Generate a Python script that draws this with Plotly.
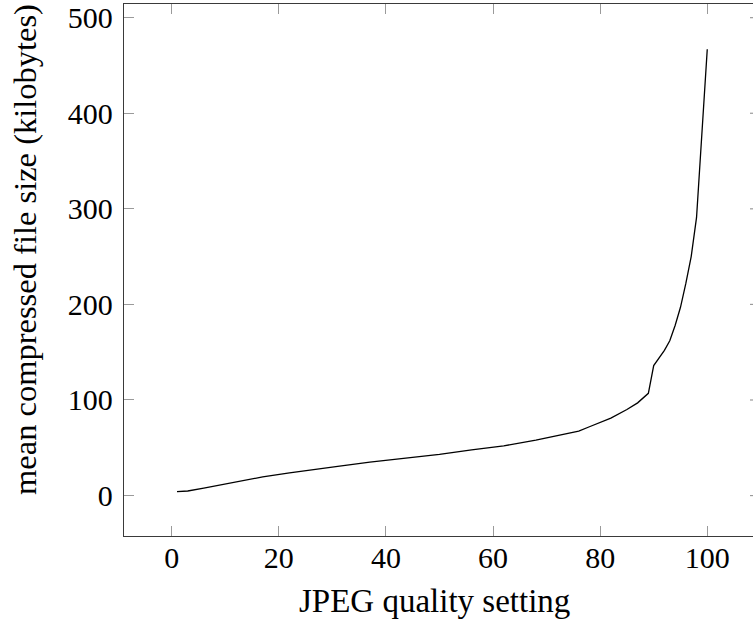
import plotly.graph_objects as go

quality = [1, 3, 6, 12, 17, 22, 27, 31, 37, 43, 50, 56, 62, 68, 72, 74, 76,
           78, 80, 82, 85, 87, 89, 90, 92, 93, 94, 95, 96, 97, 98, 100]
size_kb = [4.2, 4.8, 7.8, 14.6, 19.5, 23.8, 27.8, 30.5, 35.0, 38.8, 43.0, 47.8,
           52.0, 58.0, 62.6, 65.5, 67.5, 72.0, 76.5, 81.0, 90.0, 97.0, 107.0,
           136.0, 152.0, 162.0, 178.0, 197.0, 222.0, 250.0, 291.0, 467.0]
x_ticks = [0, 20, 40, 60, 80, 100]
y_ticks = [0, 100, 200, 300, 400, 500]
x_title = "JPEG quality setting"
y_title = "mean compressed file size (kilobytes)"

W, H = 753, 623
L, T, B, R = 124, 4, 87, 0
pw = W - L - R
ph = H - T - B

font = "Liberation Serif, Times New Roman, serif"

fig = go.Figure()
fig.add_trace(go.Scatter(x=quality, y=size_kb, mode="lines",
                         line=dict(color="black", width=1.3),
                         showlegend=False, hoverinfo="skip"))

axis_common = dict(
    showgrid=False, zeroline=False, showline=True,
    linecolor="#3a3a3a", linewidth=1.3,
    ticks="inside", ticklen=10, tickwidth=1.2, tickcolor="#9a9a9a",
    tickfont=dict(family=font, size=30, color="black"),
    automargin=False,
)

fig.update_layout(
    width=W, height=H,
    margin=dict(l=L, r=R, t=T, b=B, pad=0, autoexpand=False),
    paper_bgcolor="white", plot_bgcolor="white",
    xaxis=dict(range=[-8.9, 108.54], tickvals=x_ticks,
               ticktext=[str(v) for v in x_ticks], mirror="ticks",
               ticklabelstandoff=-5, **axis_common),
    yaxis=dict(range=[-42.3, 514.3], tickvals=y_ticks,
               ticktext=[str(v) for v in y_ticks], mirror=False,
               ticklabelstandoff=4, **axis_common),
)

# right-side tick stubs (frame lies just past the image edge)
for v in y_ticks:
    fig.add_shape(type="line", xref="paper", yref="y",
                  x0=(750 - L) / pw, x1=1.0, y0=v, y1=v,
                  line=dict(color="#9a9a9a", width=1.2))

fig.add_annotation(text=x_title, xref="paper", yref="paper",
                   x=(434 - L) / pw, y=(T + ph - 601) / ph,
                   showarrow=False, xanchor="center", yanchor="middle",
                   font=dict(family=font, size=33, color="black"))
fig.add_annotation(text=y_title, xref="paper", yref="paper",
                   x=(25 - L) / pw, y=(T + ph - 250) / ph, textangle=-90,
                   showarrow=False, xanchor="center", yanchor="middle",
                   font=dict(family=font, size=32.5, color="black"))

fig.write_html("out.html",
               config={"displayModeBar": False},
               post_script="document.body.style.margin='0px';")
